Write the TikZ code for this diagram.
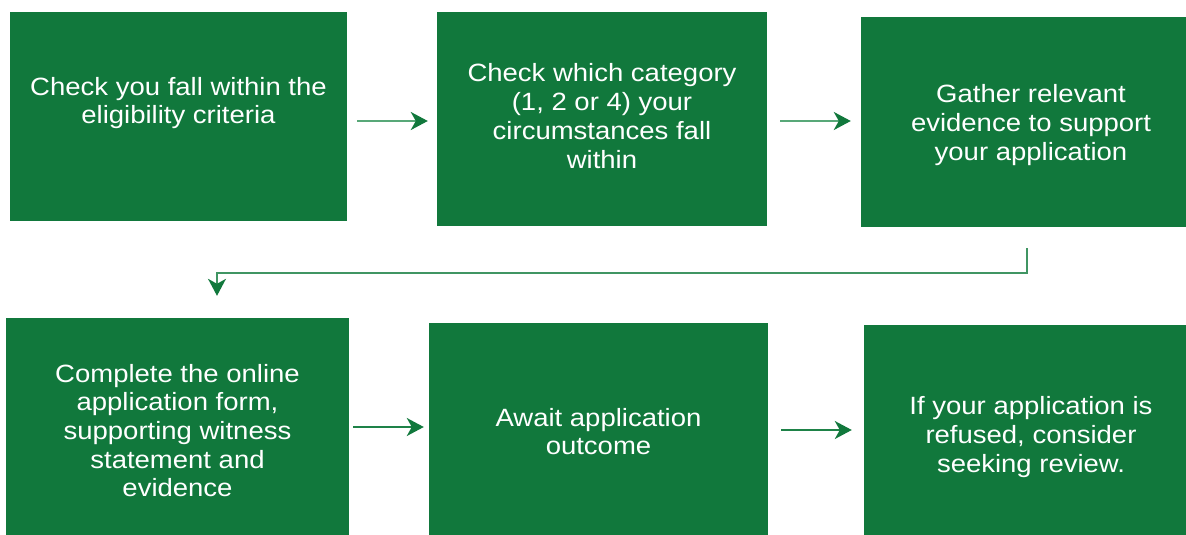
\documentclass[tikz,border=0pt]{standalone}
\usepackage{fontspec}
\setmainfont{Liberation Sans}[FakeStretch=1.1]
\usetikzlibrary{arrows.meta,calc}
\definecolor{boxgreen}{RGB}{17,120,60}
\definecolor{arrowlight}{RGB}{88,168,120}
\definecolor{arrowdark}{RGB}{30,130,72}
\begin{document}
\begin{tikzpicture}[x=1pt,y=1pt,
  stepbox/.style={fill=boxgreen,draw=none,inner sep=0pt},
  steptext/.style={text=white,align=center,font=\fontsize{25}{28.7}\selectfont,inner sep=0pt},
  tip/.style={-{Stealth[length=17pt,width=18pt,inset=5pt,color=boxgreen]}},
  flowlight/.style={draw=arrowlight,line width=2.4pt,tip,shorten <=10pt,shorten >=9pt},
  flowdark/.style={draw=arrowdark,line width=1.8pt,tip},
  flowelbow/.style={draw=arrowdark!85!white,line width=1.6pt,tip}]
\useasboundingbox (0,0) rectangle (1186,-535);

% boxes: (left,top) to (right,bottom)
\path[stepbox] (10,-12) rectangle (347,-221);
\path[stepbox] (437,-12) rectangle (767,-226);
\path[stepbox] (861,-17) rectangle (1186,-227);
\path[stepbox] (6,-318) rectangle (349,-535);
\path[stepbox] (429,-323) rectangle (768,-535);
\path[stepbox] (864,-325) rectangle (1186,-535);

\node[minimum width=337pt,minimum height=209pt,inner sep=0pt] (b1) at (178.5,-116.5) {};
\node[minimum width=330pt,minimum height=214pt,inner sep=0pt] (b2) at (602,-119) {};
\node[minimum width=325pt,minimum height=210pt,inner sep=0pt] (b3) at (1023.5,-122) {};
\node[minimum width=343pt,minimum height=217pt,inner sep=0pt] (b4) at (177.5,-426.5) {};
\node[minimum width=339pt,minimum height=212pt,inner sep=0pt] (b5) at (598.5,-429) {};
\node[minimum width=322pt,minimum height=210pt,inner sep=0pt] (b6) at (1025,-430) {};

\node[steptext] (t1) at (178.5,-103) {Check you fall within the\\eligibility criteria};
\node[steptext] (t2) at (602,-116) {Check which category\\(1, 2 or 4) your\\circumstances fall\\within};
\node[steptext] (t3) at (1031,-125) {Gather relevant\\evidence to support\\your application};
\node[steptext] (t4) at (177.5,-430.5) {Complete the online\\application form,\\supporting witness\\statement and\\evidence};
\node[steptext] (t5) at (598.5,-431.5) {Await application\\outcome};
\node[steptext] (t6) at (1031,-437) {If your application is\\refused, consider\\seeking review.};

% rows on which the straight connectors run
\coordinate (rowA) at (0,-121);
\coordinate (rowB) at (0,-427);
\coordinate (rowC) at (0,-430);

% connectors
\draw[flowlight] (b1.east |- rowA) -- (b2.west |- rowA);
\draw[flowlight, shorten <=13pt, shorten >=10pt] (b2.east |- rowA) -- (b3.west |- rowA);
\draw[flowelbow] ($(b3.south)+(3.5,-21)$) -- ++(0,-25) -| ($(b4.north)+(39.5,22)$);
\draw[flowdark, shorten <=4pt, shorten >=5pt] (b4.east |- rowB) -- (b5.west |- rowB);
\draw[flowdark, shorten <=13pt, shorten >=12pt] (b5.east |- rowC) -- (b6.west |- rowC);
\end{tikzpicture}
\end{document}
